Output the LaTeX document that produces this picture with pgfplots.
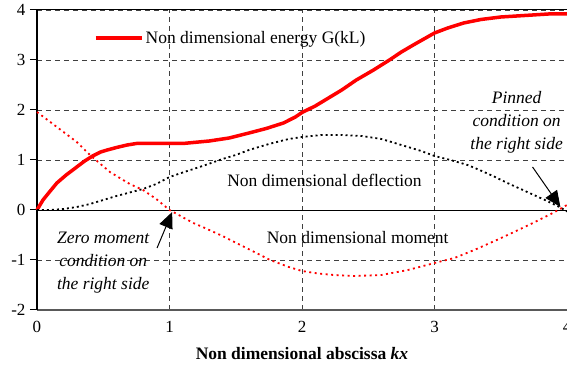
\documentclass[border=0pt]{standalone}
\usepackage{pgfplots}
\pgfplotsset{compat=1.18}
\usepackage{fontspec}
\setmainfont{Liberation Serif}
\usetikzlibrary{arrows.meta,calc}
\begin{document}
\begin{tikzpicture}
\begin{axis}[
  scale only axis, width=530pt, height=300pt,
  xmin=0, xmax=4, ymin=-2, ymax=4,
  xtick={0,1,2,3,4}, ytick={-2,-1,0,1,2,3,4},
  axis line style={draw=none},
  grid=major,
  major grid style={black!75, line width=0.8pt, dash pattern=on 5pt off 4pt},
  ytick pos=left, xtick pos=bottom,
  tick align=outside,
  major tick length=7pt,
  major tick style={black, line width=1pt},
  xtick style={draw=none},
  tick label style={font=\fontsize{17}{20}\selectfont},
  yticklabel style={xshift=-1pt},
  xticklabel style={yshift=-1pt},
  /pgf/number format/assume math mode=true,
  xlabel={\textbf{Non dimensional abscissa \textit{kx}}},
  xlabel style={font=\fontsize{17.5}{20}\selectfont, yshift=-7pt},
  legend style={at={(axis cs:0.43,3.44)}, anchor=west, draw=none, fill=none,
     font=\fontsize{17.5}{20}\selectfont, inner xsep=0pt},
  legend image code/.code={\draw[#1] (0pt,0pt) -- (42pt,0pt); \path (0pt,0pt) -- (46pt,0pt);},
  clip=false,
]
\coordinate (sw) at (rel axis cs:0,0);
\coordinate (ne) at (rel axis cs:1,1);
\draw[black, line width=0.8pt] (axis cs:0,0) -- (axis cs:4,0);
\draw[black!65, line width=2pt] (axis cs:0,-2) -- (axis cs:4,-2);
\draw[black, line width=1pt] (axis cs:0,4) -- (axis cs:4,4);
\draw[black, line width=2pt] (axis cs:0,-2) -- (axis cs:0,4);

\addplot[red, line width=3.5pt, line join=round] coordinates {
(0,0) (0.045,0.2) (0.1,0.38) (0.15,0.54) (0.22,0.7) (0.3,0.86) (0.36,0.98)
(0.42,1.08) (0.48,1.16) (0.53,1.2) (0.6,1.25) (0.68,1.3) (0.75,1.33) (0.9,1.33)
(1.0,1.33) (1.1,1.33) (1.18,1.35) (1.3,1.38) (1.45,1.44) (1.6,1.54) (1.73,1.63)
(1.86,1.74) (1.95,1.86) (2.0,1.95) (2.1,2.08) (2.2,2.24) (2.3,2.4) (2.41,2.6)
(2.54,2.8) (2.66,3.0) (2.75,3.16) (2.84,3.3) (2.92,3.42) (3.0,3.54) (3.1,3.64)
(3.22,3.74) (3.35,3.81) (3.5,3.86) (3.62,3.88) (3.74,3.9) (3.86,3.92) (4.0,3.92)
};
\addlegendentry{Non dimensional energy G(kL)}

\addplot[black, line width=1.8pt, dash pattern=on 2pt off 3pt, forget plot] coordinates {
(0,0) (0.1,0.0) (0.2,0.02) (0.3,0.06) (0.4,0.12) (0.5,0.2) (0.6,0.28) (0.7,0.35)
(0.8,0.42) (0.9,0.52) (1.0,0.66) (1.1,0.75) (1.25,0.88) (1.4,1.02) (1.5,1.1)
(1.6,1.2) (1.75,1.32) (1.9,1.42) (2.0,1.46) (2.15,1.5) (2.3,1.5) (2.45,1.48)
(2.6,1.42) (2.75,1.3) (2.9,1.18) (3.0,1.08) (3.12,1.0) (3.25,0.9) (3.34,0.8)
(3.45,0.67) (3.55,0.54) (3.65,0.42) (3.75,0.3) (3.85,0.18) (3.95,0.05) (4.0,-0.03)
};

\addplot[red, line width=1.8pt, dash pattern=on 2pt off 3.5pt, forget plot] coordinates {
(0,1.96) (0.15,1.66) (0.3,1.36) (0.4,1.1) (0.55,0.76) (0.7,0.52) (0.8,0.4)
(0.9,0.22) (1.0,0.0) (1.18,-0.26) (1.25,-0.34) (1.4,-0.52) (1.55,-0.72)
(1.76,-1.0) (1.9,-1.14) (2.0,-1.22) (2.12,-1.27) (2.24,-1.3) (2.4,-1.32)
(2.6,-1.3) (2.8,-1.2) (3.0,-1.06) (3.15,-0.96) (3.3,-0.8) (3.47,-0.6)
(3.6,-0.44) (3.75,-0.25) (3.9,-0.05) (4.0,0.1)
};

\node[font=\fontsize{17.5}{20}\selectfont] at (axis cs:2.17,0.6) {Non dimensional deflection};
\node[font=\fontsize{17.5}{20}\selectfont] at (axis cs:2.42,-0.56) {Non dimensional moment};
\node[font=\fontsize{17.5}{23}\selectfont\itshape, align=center] at (axis cs:0.5,-1.06)
  {Zero moment\\condition on\\the right side};
\node[font=\fontsize{17.5}{23}\selectfont\itshape, align=center] at (axis cs:3.62,1.76)
  {Pinned\\condition on\\the right side};
\draw[black, line width=1pt, -{Triangle[length=16pt,width=14pt]}] (axis cs:0.906,-0.76) -- (axis cs:1.02,-0.04);
\draw[black, line width=1pt, -{Triangle[length=16pt,width=14pt]}] (axis cs:3.74,0.86) -- (axis cs:3.95,0.06);
\end{axis}
\pgfresetboundingbox
\path[use as bounding box] ($(sw)+(-37pt,-56pt)$) rectangle ($(ne)+(0pt,10pt)$);
\end{tikzpicture}
\end{document}
